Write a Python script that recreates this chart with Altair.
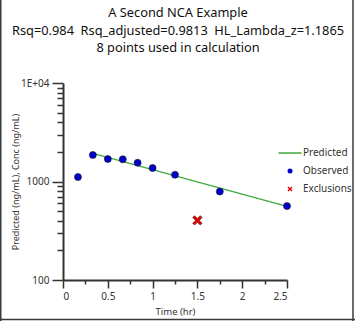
import altair as alt
import pandas as pd

# ---- data ----
obs_time = [0.167, 0.333, 0.5, 0.667, 0.833, 1.0, 1.25, 1.75, 2.5]
obs_conc = [1110, 1860, 1690, 1680, 1550, 1370, 1170, 790, 563]
excl_time = [1.5]
excl_conc = [403]
pred_time = [0.333, 2.5]
pred_conc = [1930, 560]

NB = "\u00a0"
title_lines = ["A Second NCA Example",
               "Rsq=0.984" + NB + NB + "Rsq_adjusted=0.9813" + NB + NB + "HL_Lambda_z=1.1865",
               "8 points used in calculation"]
series = ["Predicted", "Observed", "Exclusions"]
x_ticks = [0, 0.25, 0.5, 0.75, 1, 1.25, 1.5, 1.75, 2, 2.25, 2.5]
y_ticks = [100, 200, 300, 400, 500, 600, 700, 800, 900,
           1000, 2000, 3000, 4000, 5000, 6000, 7000, 8000, 9000, 10000]

obs_df = pd.DataFrame({"time": obs_time, "conc": obs_conc, "series": "Observed"})
excl_df = pd.DataFrame({"time": excl_time, "conc": excl_conc, "series": "Exclusions"})
pred_df = pd.DataFrame({"time": pred_time, "conc": pred_conc, "series": "Predicted"})

W, H = 224, 197
PL, PT = 63, 83
FONT = "Noto Sans"
TXT = "#333333"

line_path = "M-4.6,-0.3H4.6V0.3H-4.6Z"
x_path = ("M-1,-0.6L-0.6,-1L0,-0.4L0.6,-1L1,-0.6L0.4,0L1,0.6L0.6,1"
          "L0,0.4L-0.6,1L-1,0.6L-0.4,0Z")

color_scale = alt.Scale(domain=series, range=["#3faa3f", "#0000cc", "#e00000"])
shape_scale = alt.Scale(domain=series, range=[line_path, "circle", x_path])

legend = alt.Legend(title=None, orient="none", legendX=222, legendY=65,
                    labelFont=FONT, labelFontSize=10, labelColor=TXT,
                    symbolSize=25, rowPadding=8, labelOffset=8,
                    symbolStrokeWidth=0)

x_enc = alt.X("time:Q", scale=alt.Scale(domain=[0, 2.5], nice=False, zero=False),
              axis=alt.Axis(values=x_ticks, title="Time (hr)", format="~g",
                            labelExpr="(datum.value*2) % 1 == 0 ? datum.label : ''",
                            tickSize={"condition": {"test": "(datum.value*2) % 1 == 0", "value": 8}, "value": 4},
                            grid=False, domainColor="#333333", domainWidth=2,
                            tickColor="#333333", tickWidth=1.5,
                            labelFont=FONT, labelFontSize=10, labelColor=TXT,
                            labelPadding=3, titleFont=FONT, titleFontSize=9.5,
                            titleFontWeight="normal", titleColor=TXT,
                            titleX=W / 2, titleY=31, titleBaseline="middle"))
y_enc = alt.Y("conc:Q", scale=alt.Scale(type="log", domain=[100, 10000], nice=False),
              axis=alt.Axis(values=y_ticks, title="Predicted (ng/mL), Conc (ng/mL)",
                            labelExpr="datum.value == 100 ? '100' : datum.value == 1000 ? '1000' : datum.value == 10000 ? '1E+04' : ''",
                            tickSize={"condition": {"test": "datum.value == 100 || datum.value == 1000 || datum.value == 10000", "value": 11}, "value": 6},
                            grid=False, domainColor="#333333", domainWidth=2,
                            tickColor="#333333", tickWidth=1.5,
                            labelFont=FONT, labelFontSize=10, labelColor=TXT,
                            labelPadding=3, titleFont=FONT, titleFontSize=9,
                            titleFontWeight="normal", titleColor=TXT,
                            titleX=-48, titleY=H / 2, titleAngle=270,
                            titleAlign="center", titleBaseline="middle"))

color_enc = alt.Color("series:N", scale=color_scale, legend=legend)
shape_enc = alt.Shape("series:N", scale=shape_scale, legend=legend)

pred_layer = alt.Chart(pred_df).mark_line(strokeWidth=1.3).encode(
    x=x_enc, y=y_enc, color=color_enc)
obs_layer = alt.Chart(obs_df).mark_point(filled=True, size=50, opacity=1,
                                         stroke="#222222", strokeWidth=0.6).encode(
    x=x_enc, y=y_enc, color=color_enc, shape=shape_enc)
excl_layer = alt.Chart(excl_df).mark_point(filled=True, size=90, opacity=1,
                                           stroke="#552222", strokeWidth=0.6).encode(
    x=x_enc, y=y_enc, color=color_enc, shape=shape_enc)

frame_df = pd.DataFrame({"k": [0]})
frame_left = alt.Chart(frame_df).mark_rule(color="#3a3a3a", strokeWidth=1.5).encode(
    x=alt.value(-PL + 0.75), y=alt.value(-PT), y2=alt.value(321 - PT))
frame_right = alt.Chart(frame_df).mark_rule(color="#3a3a3a", strokeWidth=1.5).encode(
    x=alt.value(353 - PL), y=alt.value(-PT), y2=alt.value(321 - PT))
frame_bottom = alt.Chart(frame_df).mark_rule(color="#3a3a3a", strokeWidth=1.5).encode(
    x=alt.value(-PL), x2=alt.value(355 - PL), y=alt.value(319.5 - PT))

chart = alt.layer(pred_layer, obs_layer, excl_layer,
                  frame_left, frame_right, frame_bottom).resolve_scale(
    color="shared", shape="shared"
).properties(
    width=W, height=H,
    title=alt.TitleParams(text=title_lines, font=FONT, fontSize=12.8,
                          fontWeight="normal", color="#111111",
                          lineHeight=17.5, anchor="middle", dx=3, offset=-69,
                          frame="group", baseline="bottom"),
    autosize=alt.AutoSizeParams(type="none"),
    padding={"left": PL, "top": PT, "right": 355 - PL - W, "bottom": 321 - PT - H},
    background="white",
).configure_view(stroke=None)

chart.save("out.html", embed_options={"renderer": "svg", "actions": False})
